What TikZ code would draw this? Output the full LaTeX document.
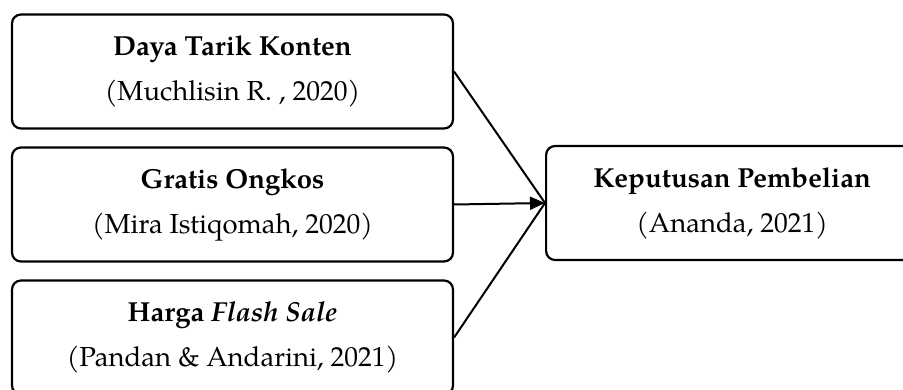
\documentclass[tikz,border=0pt]{standalone}
\usepackage{fontspec}
\setmainfont{TeX Gyre Pagella}
\usepackage{tikz}
\usetikzlibrary{arrows.meta,positioning}
\tikzset{
  >={Triangle[length=15pt,width=13pt]},
  box/.style={draw=black,rounded corners=9pt,line width=2.2pt,inner sep=2pt,
    minimum width=441pt,minimum height=114pt,align=center,fill=white,
    font=\fontsize{27.5}{45}\selectfont},
  rbox/.style={box,minimum width=372pt},
  lnk/.style={draw=black,line width=2pt},
  arr/.style={lnk,->},
}

\begin{document}
\begin{tikzpicture}[x=1pt,y=-1pt]
\useasboundingbox (0,0) rectangle (903,390);
\node[box] (konten) at (232.5,71.5) {\textbf{Daya Tarik Konten}\\(Muchlisin R. , 2020)};
\node[box] (ongkos) at (232.5,204.5) {\textbf{Gratis Ongkos}\\(Mira Istiqomah, 2020)};
\node[box] (flash) at (232.5,337.5) {\textbf{Harga \textit{Flash Sale}}\\(Pandan \& Andarini, 2021)};
\node[rbox,anchor=west] (beli) at (545,203) {\textbf{Keputusan Pembelian}\\(Ananda, 2021)};
\draw[lnk] (konten.east) -- (beli.west);
\draw[arr] (ongkos.east) -- (beli.west);
\draw[lnk] (flash.east) -- (beli.west);
\end{tikzpicture}
\end{document}
